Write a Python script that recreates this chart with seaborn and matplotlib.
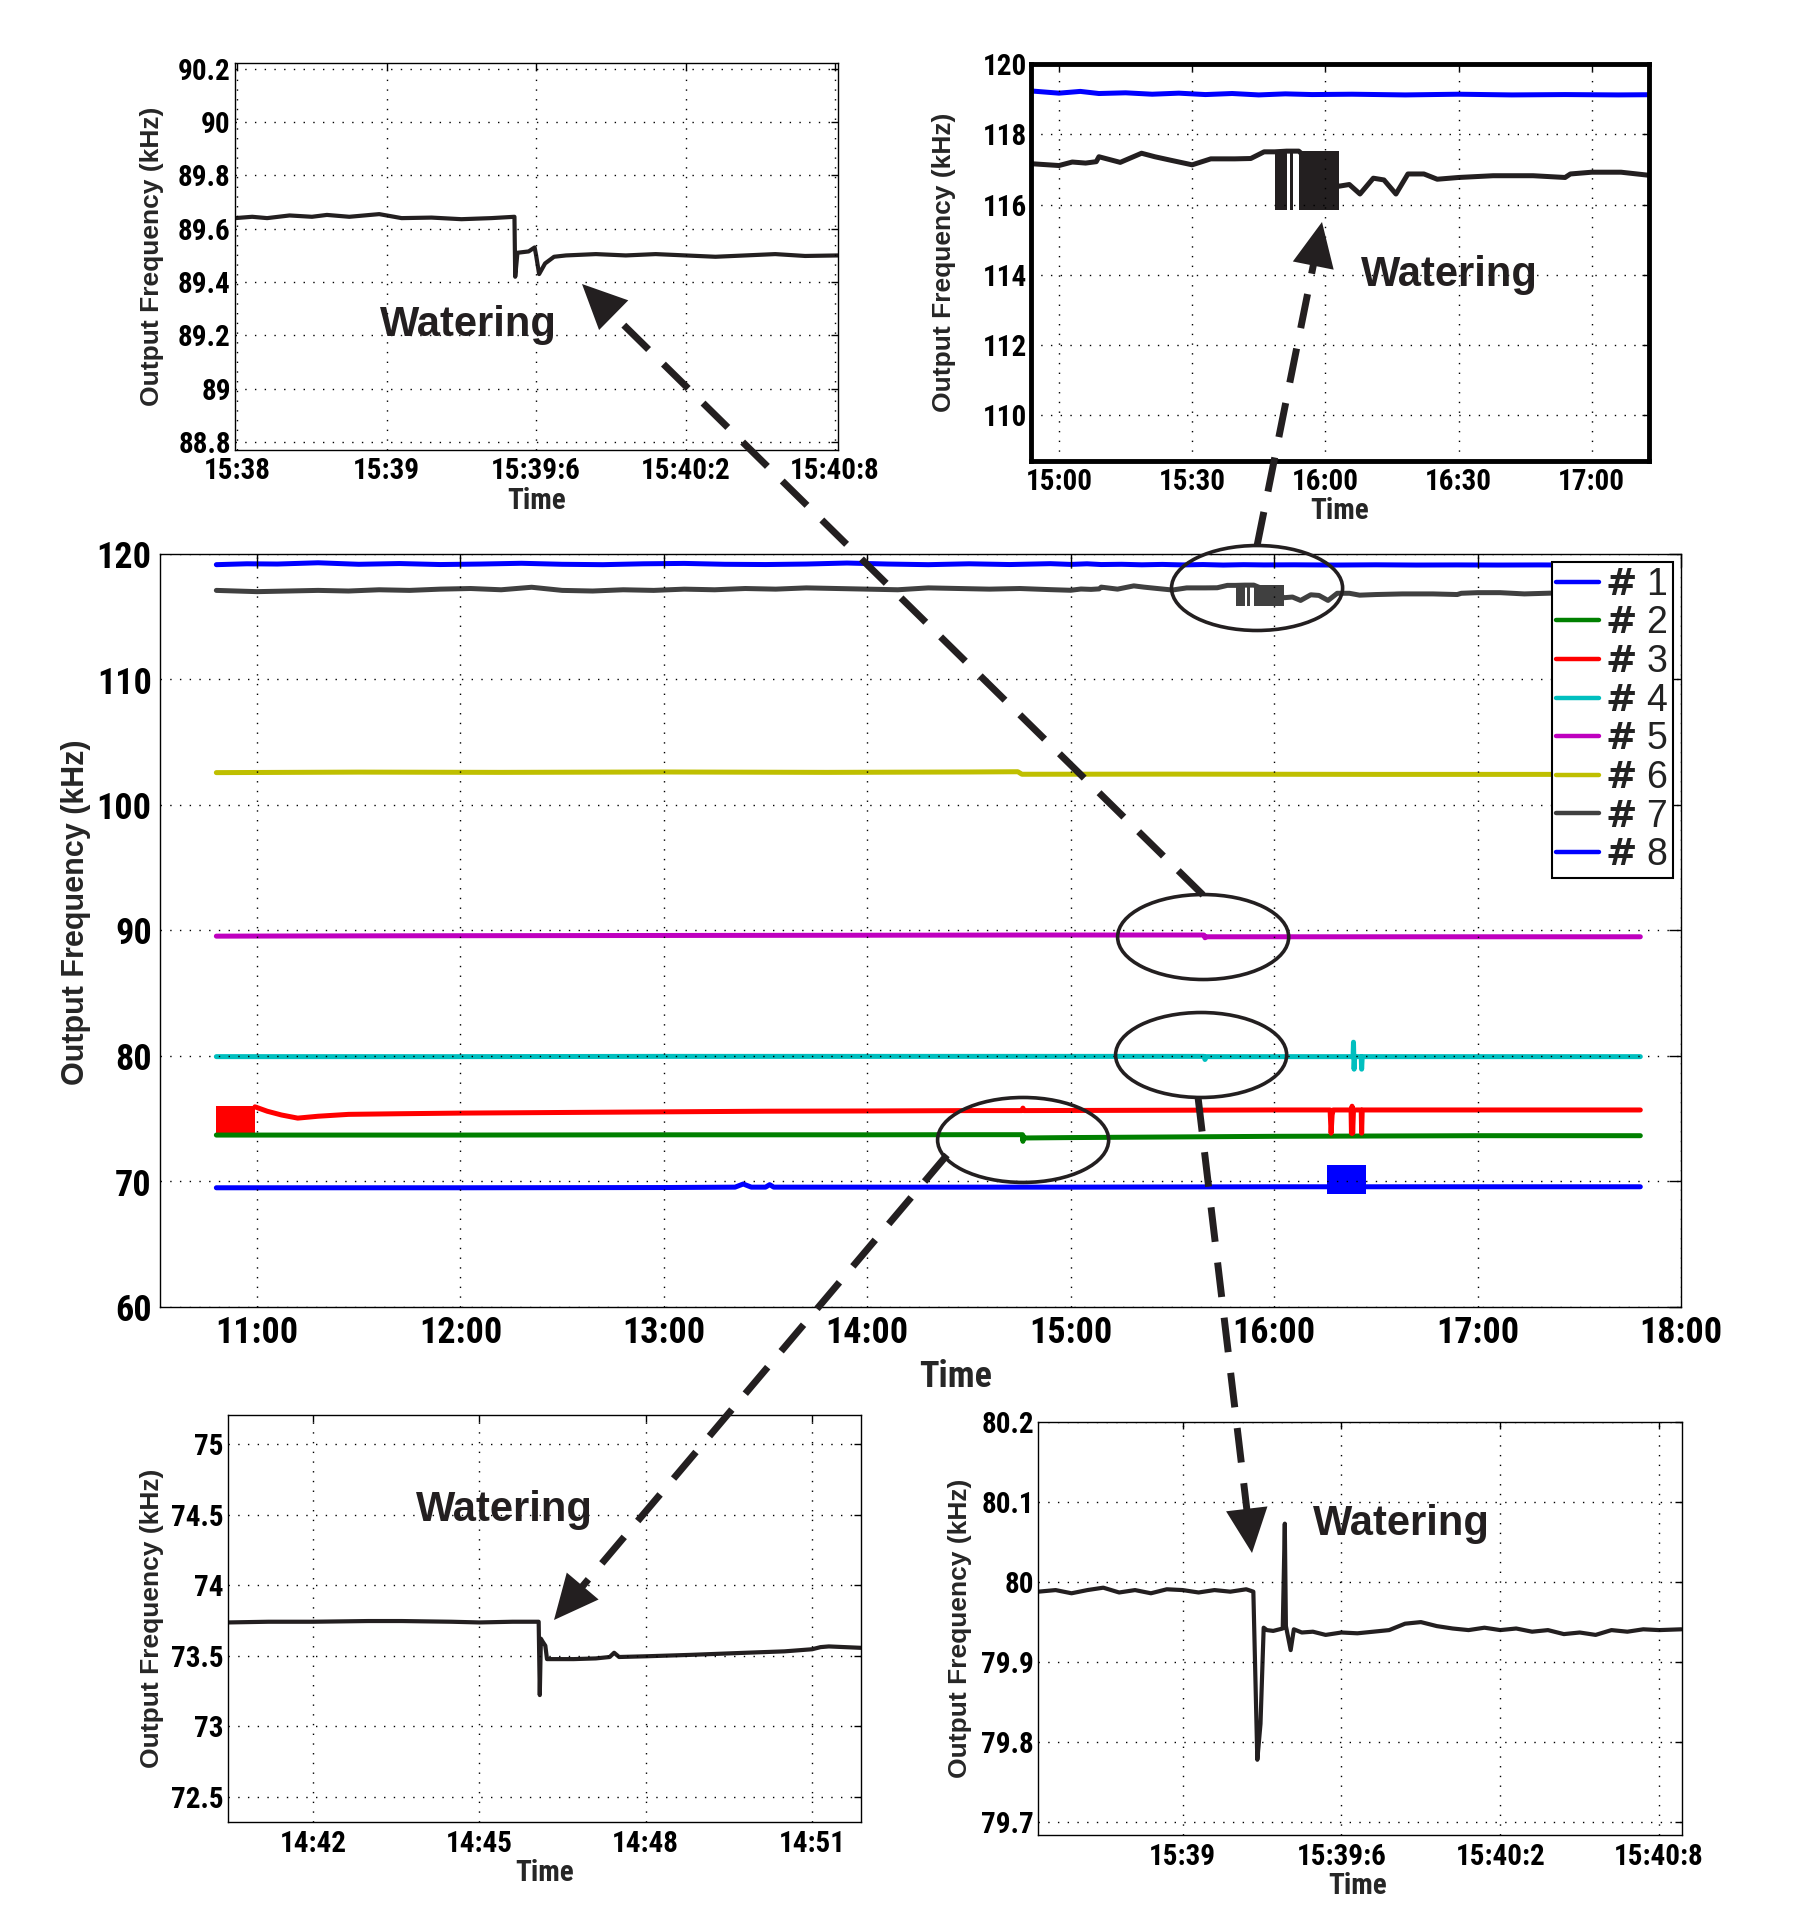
import matplotlib
matplotlib.use("Agg")
import matplotlib.pyplot as plt
import seaborn as sns
from matplotlib.patches import Ellipse, FancyArrowPatch
from matplotlib.lines import Line2D
from matplotlib.font_manager import FontProperties

# ---------------- data ----------------
SENSOR_LABELS = [r"$\mathbf{\#}$ 1", r"$\mathbf{\#}$ 2", r"$\mathbf{\#}$ 3", r"$\mathbf{\#}$ 4",
                 r"$\mathbf{\#}$ 5", r"$\mathbf{\#}$ 6", r"$\mathbf{\#}$ 7", r"$\mathbf{\#}$ 8"]
SENSOR_COLORS = ["#0000ff", "#008000", "#ff0000", "#00bfbf",
                 "#bf00bf", "#bfbf00", "#404040", "#0000ff"]

MAIN_XTICKS = [11, 12, 13, 14, 15, 16, 17, 18]
MAIN_XTICKLABELS = ["11:00", "12:00", "13:00", "14:00", "15:00", "16:00", "17:00", "18:00"]
MAIN_YTICKS = [60, 70, 80, 90, 100, 110, 120]

# sensor #1 (hours, kHz)
S1_T = [10.80, 10.95, 11.10, 11.30, 11.50, 11.70, 11.90, 12.10, 12.30, 12.50,
        12.70, 12.90, 13.10, 13.30, 13.50, 13.70, 13.90, 14.10, 14.30, 14.50,
        14.70, 14.90, 15.00, 15.08, 15.15, 15.25, 15.35, 15.45, 15.55, 15.65,
        15.75, 15.85, 15.95, 16.10, 16.30, 16.50, 16.70, 16.90, 17.10, 17.30,
        17.50, 17.80]
S1_F = [119.15, 119.22, 119.20, 119.30, 119.18, 119.24, 119.16, 119.20, 119.26, 119.18,
        119.15, 119.22, 119.25, 119.18, 119.16, 119.20, 119.28, 119.20, 119.15, 119.22,
        119.16, 119.23, 119.17, 119.22, 119.16, 119.18, 119.14, 119.17, 119.13, 119.16,
        119.12, 119.15, 119.13, 119.14, 119.12, 119.14, 119.12, 119.13, 119.12, 119.13,
        119.12, 119.12]

# sensor #2
S2_T = [10.80, 12.00, 13.00, 14.00, 14.50, 14.763, 14.765, 14.768, 14.772, 14.78,
        15.00, 15.50, 16.00, 17.00, 17.80]
S2_F = [73.70, 73.70, 73.72, 73.72, 73.73, 73.73, 73.20, 73.60, 73.47, 73.47,
        73.50, 73.55, 73.60, 73.65, 73.65]

# sensor #3 (start-up oscillation shown as envelope band)
S3_BAND_T = [10.80, 10.99]
S3_BAND_LO = 73.80
S3_BAND_HI = 76.00
S3_T = [10.99, 11.05, 11.12, 11.20, 11.30, 11.45, 11.70, 12.00, 12.50, 13.00,
        13.50, 14.00, 14.50, 14.76, 14.765, 14.77, 15.00, 15.50, 16.00, 16.275,
        16.280, 16.285, 16.290, 16.378, 16.380, 16.383, 16.386, 16.390, 16.428, 16.430,
        16.433, 17.00, 17.80]
S3_F = [75.95, 75.60, 75.30, 75.05, 75.20, 75.35, 75.40, 75.45, 75.50, 75.55,
        75.60, 75.62, 75.65, 75.65, 75.85, 75.65, 75.66, 75.68, 75.70, 75.70,
        73.85, 75.30, 75.70, 75.70, 73.85, 76.00, 73.85, 75.70, 75.70, 73.85,
        75.70, 75.70, 75.70]

# sensor #4
S4_T = [10.80, 12.00, 13.00, 14.00, 15.00, 15.655, 15.660, 15.667, 16.00, 16.388,
        16.390, 16.393, 16.396, 16.428, 16.430, 16.433, 17.00, 17.80]
S4_F = [79.95, 79.95, 79.97, 79.97, 79.97, 79.97, 79.72, 79.95, 79.95, 79.95,
        81.10, 78.95, 79.95, 79.95, 78.95, 79.95, 79.95, 79.95]

# sensor #5
S5_T = [10.80, 11.80, 12.80, 13.80, 14.80, 15.655, 15.660, 15.667, 16.50, 17.80]
S5_F = [89.55, 89.58, 89.60, 89.62, 89.64, 89.64, 89.42, 89.50, 89.50, 89.50]

# sensor #6
S6_T = [10.80, 11.50, 12.20, 13.00, 13.80, 14.50, 14.74, 14.76, 15.50, 16.50, 17.80]
S6_F = [102.58, 102.62, 102.60, 102.63, 102.60, 102.63, 102.65, 102.45, 102.46, 102.44, 102.44]

# sensor #7 (oscillation during watering shown as envelope bands)
S7_T = [10.80, 10.90, 11.00, 11.15, 11.30, 11.45, 11.60, 11.75, 11.90, 12.05,
        12.20, 12.35, 12.50, 12.65, 12.80, 12.95, 13.10, 13.25, 13.40, 13.55,
        13.70, 13.85, 14.00, 14.15, 14.30, 14.45, 14.60, 14.75, 14.90, 15.00,
        15.05, 15.10, 15.14, 15.15, 15.23, 15.31, 15.36, 15.42, 15.50, 15.57,
        15.66, 15.72, 15.77, 15.81, 15.855, 15.867, 15.88, 15.90, 16.05, 16.09,
        16.13, 16.18, 16.22, 16.265, 16.31, 16.37, 16.42, 16.50, 16.63, 16.78,
        16.90, 16.92, 17.00, 17.11, 17.23, 17.40, 17.60, 17.80]
S7_F = [117.10, 117.05, 117.00, 117.05, 117.10, 117.05, 117.15, 117.10, 117.20, 117.25,
        117.15, 117.35, 117.10, 117.05, 117.15, 117.10, 117.20, 117.15, 117.25, 117.20,
        117.30, 117.25, 117.20, 117.15, 117.30, 117.25, 117.20, 117.25, 117.16, 117.11,
        117.21, 117.18, 117.22, 117.36, 117.20, 117.46, 117.36, 117.26, 117.13, 117.30,
        117.30, 117.31, 117.50, 117.50, 117.52, 117.52, 117.52, 117.52, 116.52, 116.57,
        116.30, 116.75, 116.70, 116.30, 116.87, 116.87, 116.72, 116.77, 116.82, 116.82,
        116.77, 116.87, 116.92, 116.92, 116.82, 116.90, 116.88, 116.90]
S7_BAND_T0 = [15.81, 15.867, 15.90]
S7_BAND_T1 = [15.855, 15.88, 16.05]
S7_BAND_LO = 115.85
S7_BAND_HI = 117.52

# sensor #8
S8_T = [10.80, 12.00, 13.00, 13.35, 13.39, 13.43, 13.50, 13.52, 13.54, 14.00,
        15.00, 16.00, 16.26, 16.45, 17.00, 17.80]
S8_F = [69.50, 69.50, 69.52, 69.55, 69.80, 69.55, 69.55, 69.75, 69.55, 69.55,
        69.55, 69.58, 69.58, 69.58, 69.58, 69.58]
S8_BAND_T = [16.26, 16.45]
S8_BAND_LO = 69.00
S8_BAND_HI = 71.35

# inset: top-left (sensor #5 around watering)
TL_XTICKLABELS = ["15:38", "15:39", "15:39:6", "15:40:2", "15:40:8"]
TL_YTICKS = [88.8, 89.0, 89.2, 89.4, 89.6, 89.8, 90.0, 90.2]
TL_YTICKLABELS = ["88.8", "89", "89.2", "89.4", "89.6", "89.8", "90", "90.2"]
TL_X = [-0.015, 0.10, 0.20, 0.35, 0.50, 0.60, 0.75, 0.95, 1.10, 1.30,
        1.50, 1.70, 1.855, 1.860, 1.875, 1.950, 1.990, 2.000, 2.020, 2.060,
        2.120, 2.200, 2.400, 2.600, 2.800, 3.000, 3.200, 3.400, 3.600, 3.800, 4.020]
TL_F = [89.640, 89.645, 89.640, 89.650, 89.645, 89.652, 89.645, 89.655, 89.640, 89.642,
        89.636, 89.640, 89.645, 89.420, 89.510, 89.515, 89.530, 89.500, 89.430, 89.470,
        89.495, 89.500, 89.505, 89.500, 89.505, 89.500, 89.495, 89.500, 89.505, 89.498, 89.500]

# inset: top-right (sensors #1 and #7, 15:00-17:00)
TR_XTICKS = [15.0, 15.5, 16.0, 16.5, 17.0]
TR_XTICKLABELS = ["15:00", "15:30", "16:00", "16:30", "17:00"]
TR_YTICKS = [110, 112, 114, 116, 118, 120]

# inset: bottom-left (sensor #2, minutes after 14:00)
BL_XTICKS = [42, 45, 48, 51]
BL_XTICKLABELS = ["14:42", "14:45", "14:48", "14:51"]
BL_YTICKS = [72.5, 73.0, 73.5, 74.0, 74.5, 75.0]
BL_YTICKLABELS = ["72.5", "73", "73.5", "74", "74.5", "75"]
BL_X = [40.47, 41.20, 42.00, 43.00, 43.60, 44.50, 45.00, 45.60, 46.07, 46.09,
        46.11, 46.14, 46.19, 46.22, 46.70, 47.10, 47.35, 47.43, 47.52, 48.00,
        48.80, 49.80, 50.50, 51.00, 51.15, 51.30, 51.88]
BL_F = [73.735, 73.740, 73.740, 73.745, 73.745, 73.740, 73.735, 73.740, 73.740, 73.220,
        73.620, 73.600, 73.570, 73.475, 73.475, 73.480, 73.490, 73.520, 73.490, 73.495,
        73.505, 73.520, 73.530, 73.545, 73.560, 73.565, 73.555]

# inset: bottom-right (sensor #4 around watering)
BR_XTICKLABELS = ["15:39", "15:39:6", "15:40:2", "15:40:8"]
BR_YTICKS = [79.7, 79.8, 79.9, 80.0, 80.1, 80.2]
BR_YTICKLABELS = ["79.7", "79.8", "79.9", "80", "80.1", "80.2"]
BR_X = [-0.91, -0.80, -0.70, -0.60, -0.50, -0.40, -0.30, -0.20, -0.10, 0.00,
        0.10, 0.20, 0.30, 0.40, 0.445, 0.470, 0.490, 0.510, 0.530, 0.570,
        0.630, 0.643, 0.650, 0.680, 0.700, 0.750, 0.820, 0.900, 1.000, 1.100,
        1.200, 1.300, 1.400, 1.500, 1.600, 1.700, 1.800, 1.900, 2.000, 2.100,
        2.200, 2.300, 2.400, 2.500, 2.600, 2.700, 2.800, 2.900, 3.000, 3.140]
BR_F = [79.988, 79.990, 79.986, 79.990, 79.993, 79.987, 79.990, 79.986, 79.991, 79.990,
        79.987, 79.990, 79.988, 79.991, 79.988, 79.778, 79.823, 79.943, 79.940, 79.939,
        79.942, 80.073, 79.945, 79.915, 79.941, 79.937, 79.938, 79.934, 79.937, 79.936,
        79.938, 79.940, 79.948, 79.950, 79.945, 79.942, 79.940, 79.943, 79.940, 79.942,
        79.938, 79.940, 79.935, 79.937, 79.934, 79.940, 79.938, 79.941, 79.940, 79.941]

# ---------------- style ----------------
sns.set_style("white")
NARROW = ["Liberation Sans Narrow", "Roboto Condensed", "Liberation Sans", "DejaVu Sans"]
WIDE = ["Liberation Sans", "DejaVu Sans"]
plt.rcParams["font.family"] = NARROW
plt.rcParams["font.weight"] = "bold"
plt.rcParams["axes.labelweight"] = "bold"
INK = "#231f20"

W, H = 1800, 1909
fig = plt.figure(figsize=(18, 19.09), dpi=100)


def px_rect(l, t, r, b):
    return [l / W, 1 - b / H, (r - l) / W, (b - t) / H]


def line(ax, x, y, color, lw):
    sns.lineplot(x=x, y=y, ax=ax, color=color, lw=lw, estimator=None,
                 sort=False, legend=False)


def style_axes(ax, labelsize, tick_len, pad_x, pad_y, spine_lw=1.0):
    ax.grid(True, color="k", ls=(0, (1, 6)), lw=1.0)
    ax.set_axisbelow(False)
    for s in ax.spines.values():
        s.set_visible(True)
        s.set_color("k")
        s.set_linewidth(spine_lw)
    ax.tick_params(direction="in", length=tick_len, width=1, top=True, right=True,
                   colors="k", labelsize=labelsize)
    ax.tick_params(axis="x", pad=pad_x)
    ax.tick_params(axis="y", pad=pad_y)
    ax.set_facecolor("white")


# ---------------- main axes ----------------
ax = fig.add_axes(px_rect(160, 554, 1681, 1307))
series = [(S1_T, S1_F), (S2_T, S2_F), (S3_T, S3_F), (S4_T, S4_F),
          (S5_T, S5_F), (S6_T, S6_F), (S7_T, S7_F), (S8_T, S8_F)]
for (t, f), c in zip(series, SENSOR_COLORS):
    line(ax, t, f, c, 3.6)
ax.fill_between(S3_BAND_T, S3_BAND_LO, S3_BAND_HI, color=SENSOR_COLORS[2], lw=0)
ax.fill_between(S8_BAND_T, S8_BAND_LO, S8_BAND_HI, color=SENSOR_COLORS[7], lw=0)
for t0, t1 in zip(S7_BAND_T0, S7_BAND_T1):
    ax.fill_between([t0, t1], S7_BAND_LO, S7_BAND_HI, color=SENSOR_COLORS[6], lw=0)

ax.set_xlim(10.523, 18.0)
ax.set_ylim(60, 120)
ax.set_xticks(MAIN_XTICKS)
ax.set_xticklabels(MAIN_XTICKLABELS)
ax.set_yticks(MAIN_YTICKS)
style_axes(ax, 26, 9, 6, 6)
ax.set_ylabel("Output Frequency (kHz)", family=WIDE, weight="bold", fontsize=22)
ax.yaxis.set_label_coords(-0.0454, 0.524)
ax.set_xlabel("Time", fontsize=26, weight="bold")
ax.xaxis.set_label_coords(0.5233, -0.069)

handles = [Line2D([], [], color=c, lw=3.2) for c in SENSOR_COLORS]
leg = ax.legend(handles, SENSOR_LABELS, loc="upper right", bbox_to_anchor=(0.9947, 0.989),
                borderaxespad=0, frameon=True, fancybox=False, edgecolor="k",
                framealpha=1, prop=FontProperties(family=WIDE, weight="normal", size=27),
                handlelength=1.15, handletextpad=0.15, labelspacing=0.07, borderpad=0.12)
leg.get_frame().set_linewidth(1.5)
for txt in leg.get_texts():
    txt.set_color("#222222")

# ellipses marking watering events (main data coordinates)
ELLIPSE_CENTERS = [(15.916, 117.29), (15.651, 89.48), (15.641, 80.08), (14.766, 73.31)]
for cx, cy in ELLIPSE_CENTERS:
    ax.add_patch(Ellipse((cx, cy), 0.841, 6.77, fill=False, ec=INK, lw=2.6,
                         clip_on=False, zorder=10))

# ---------------- insets ----------------
ylab_kw = dict(family=WIDE, weight="bold", fontsize=19)
xlab_kw = dict(fontsize=21, weight="bold")
IN_TICK = 21

# top-left
ax_tl = fig.add_axes(px_rect(235, 63, 838, 450))
line(ax_tl, TL_X, TL_F, INK, 3.0)
ax_tl.set_xlim(-0.015, 4.02)
ax_tl.set_ylim(88.77, 90.222)
ax_tl.set_xticks(range(len(TL_XTICKLABELS)))
ax_tl.set_xticklabels(TL_XTICKLABELS)
ax_tl.set_yticks(TL_YTICKS)
ax_tl.set_yticklabels(TL_YTICKLABELS)
style_axes(ax_tl, IN_TICK, 5, 5, 3)
ax_tl.set_ylabel("Output Frequency (kHz)", **ylab_kw)
ax_tl.yaxis.set_label_coords(-0.118, 0.5)
ax_tl.set_xlabel("Time", **xlab_kw)
ax_tl.xaxis.set_label_coords(0.5, -0.095)
ax_tl.text(1.55, 89.24, "Watering", family=WIDE, weight="bold", fontsize=30,
           ha="center", va="center", color=INK)

# top-right
ax_tr = fig.add_axes(px_rect(1031, 64, 1649, 461))
line(ax_tr, S1_T, S1_F, SENSOR_COLORS[0], 3.6)
line(ax_tr, S7_T, S7_F, INK, 3.6)
for t0, t1 in zip(S7_BAND_T0, S7_BAND_T1):
    ax_tr.fill_between([t0, t1], S7_BAND_LO, S7_BAND_HI, color=INK, lw=0)
ax_tr.set_xlim(14.895, 17.215)
ax_tr.set_ylim(108.7, 120)
ax_tr.set_xticks(TR_XTICKS)
ax_tr.set_xticklabels(TR_XTICKLABELS)
ax_tr.set_yticks(TR_YTICKS)
style_axes(ax_tr, IN_TICK, 5, 5, 3, spine_lw=3.5)
ax_tr.set_ylabel("Output Frequency (kHz)", **ylab_kw)
ax_tr.yaxis.set_label_coords(-0.121, 0.5)
ax_tr.set_xlabel("Time", **xlab_kw)
ax_tr.xaxis.set_label_coords(0.5, -0.09)
ax_tr.text(16.464, 114.0, "Watering", family=WIDE, weight="bold", fontsize=30,
           ha="center", va="center", color=INK)

# bottom-left
ax_bl = fig.add_axes(px_rect(228, 1415, 861, 1822))
line(ax_bl, BL_X, BL_F, INK, 3.0)
ax_bl.set_xlim(40.47, 51.88)
ax_bl.set_ylim(72.32, 75.206)
ax_bl.set_xticks(BL_XTICKS)
ax_bl.set_xticklabels(BL_XTICKLABELS)
ax_bl.set_yticks(BL_YTICKS)
ax_bl.set_yticklabels(BL_YTICKLABELS)
style_axes(ax_bl, IN_TICK, 5, 6, 3)
ax_bl.set_ylabel("Output Frequency (kHz)", **ylab_kw)
ax_bl.yaxis.set_label_coords(-0.101, 0.5)
ax_bl.set_xlabel("Time", **xlab_kw)
ax_bl.xaxis.set_label_coords(0.5, -0.09)
ax_bl.text(45.46, 74.53, "Watering", family=WIDE, weight="bold", fontsize=30,
           ha="center", va="center", color=INK)

# bottom-right
ax_br = fig.add_axes(px_rect(1038, 1422, 1682, 1835))
line(ax_br, BR_X, BR_F, INK, 3.0)
ax_br.set_xlim(-0.911, 3.144)
ax_br.set_ylim(79.684, 80.2)
ax_br.set_xticks(range(len(BR_XTICKLABELS)))
ax_br.set_xticklabels(BR_XTICKLABELS)
ax_br.set_yticks(BR_YTICKS)
ax_br.set_yticklabels(BR_YTICKLABELS)
style_axes(ax_br, IN_TICK, 5, 6, 3)
ax_br.set_ylabel("Output Frequency (kHz)", **ylab_kw)
ax_br.yaxis.set_label_coords(-0.102, 0.5)
ax_br.set_xlabel("Time", **xlab_kw)
ax_br.xaxis.set_label_coords(0.497, -0.09)
ax_br.text(1.375, 80.073, "Watering", family=WIDE, weight="bold", fontsize=30,
           ha="center", va="center", color=INK)

# ---------------- dashed arrows (figure pixel positions, top-left origin) ----------------
ARROWS = [((1257, 546), (1322, 222)),
          ((1203, 895), (582, 284)),
          ((1198, 1097), (1252, 1553)),
          ((947, 1155), (554, 1620))]
HEAD_PX = 45.0
for (sx, sy), (tx, ty) in ARROWS:
    dx, dy = tx - sx, ty - sy
    L = (dx ** 2 + dy ** 2) ** 0.5
    ux, uy = dx / L, dy / L
    bx, by = tx - ux * (HEAD_PX - 2), ty - uy * (HEAD_PX - 2)
    fig.add_artist(Line2D([sx / W, bx / W], [1 - sy / H, 1 - by / H],
                          transform=fig.transFigure, color=INK, lw=5,
                          ls=(0, (5, 3)), dash_capstyle="butt", zorder=20))
    ax0, ay0 = tx - ux * (HEAD_PX + 10), ty - uy * (HEAD_PX + 10)
    fig.add_artist(FancyArrowPatch((ax0 / W, 1 - ay0 / H), (tx / W, 1 - ty / H),
                                   transform=fig.transFigure,
                                   arrowstyle="-|>,head_length=32,head_width=15",
                                   mutation_scale=1, lw=0, fc=INK, ec=INK,
                                   shrinkA=0, shrinkB=0, zorder=21))

fig.savefig("out.png", dpi=100)
